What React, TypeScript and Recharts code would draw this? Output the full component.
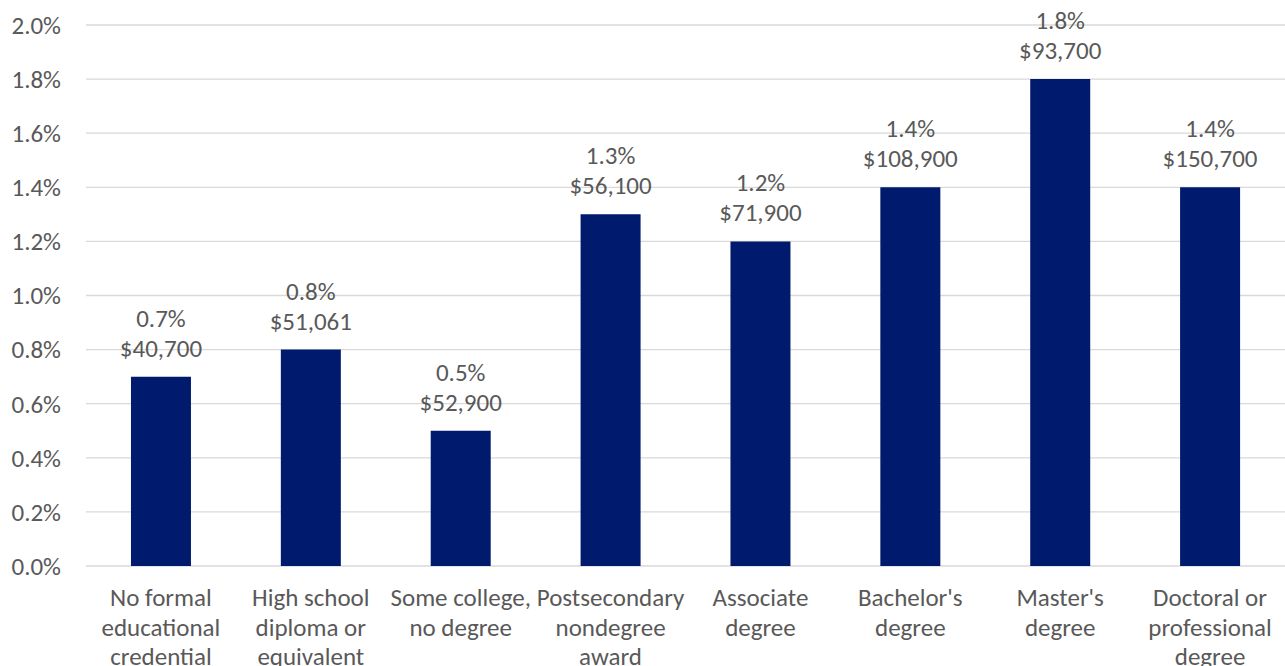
import { BarChart, Bar, XAxis, YAxis, CartesianGrid, LabelList } from 'recharts';

const categories = [
  'No formal educational credential',
  'High school diploma or equivalent',
  'Some college, no degree',
  'Postsecondary nondegree award',
  'Associate degree',
  "Bachelor's degree",
  "Master's degree",
  'Doctoral or professional degree',
];

// how each category name breaks into lines under the axis
const categoryLines = [
  ['No formal', 'educational', 'credential'],
  ['High school', 'diploma or', 'equivalent'],
  ['Some college,', 'no degree'],
  ['Postsecondary', 'nondegree', 'award'],
  ['Associate', 'degree'],
  ["Bachelor's", 'degree'],
  ["Master's", 'degree'],
  ['Doctoral or', 'professional', 'degree'],
];

const rates = [0.7, 0.8, 0.5, 1.3, 1.2, 1.4, 1.8, 1.4];
const salaries = [40700, 51061, 52900, 56100, 71900, 108900, 93700, 150700];
const yTicks = [0, 0.2, 0.4, 0.6, 0.8, 1.0, 1.2, 1.4, 1.6, 1.8, 2.0];

const data = categories.map((name, i) => ({ name, rate: rates[i], salary: salaries[i] }));

const FONT = 'Carlito, Lato, sans-serif';
const FS = 25;
const TEXT = '#595959';
const BAR = '#001A6E';

const CategoryTick = (props: any) => {
  const { x, y, payload } = props;
  const idx = categories.indexOf(payload.value);
  const lines = categoryLines[idx] || [payload.value];
  return (
    <text x={x} y={y} textAnchor="middle" fill={TEXT} fontFamily={FONT} fontSize={FS}>
      {lines.map((l, i) => (
        <tspan key={i} x={x} dy={i === 0 ? 40 : 29.5}>
          {l}
        </tspan>
      ))}
    </text>
  );
};

const BarLabel = (props: any) => {
  const { x, y, width, index } = props;
  const cx = x + width / 2;
  return (
    <text textAnchor="middle" fill={TEXT} fontFamily={FONT} fontSize={FS}>
      <tspan x={cx} y={y - 50}>{rates[index].toFixed(1) + '%'}</tspan>
      <tspan x={cx} y={y - 20}>{'$' + salaries[index].toLocaleString('en-US')}</tspan>
    </text>
  );
};

export default function App() {
  return (
    <div style={{ position: 'absolute', left: 0, top: 0, background: '#fff' }}>
      <BarChart
        width={1285}
        height={666}
        data={data}
        margin={{ top: 25, right: 0, left: 0, bottom: 0 }}
        barCategoryGap="30%"
      >
        <CartesianGrid vertical={false} stroke="#D9D9D9" strokeWidth={1.3} />
        <XAxis
          dataKey="name"
          axisLine={false}
          tickLine={false}
          tickSize={0}
          tickMargin={0}
          height={100}
          interval={0}
          tick={<CategoryTick />}
        />
        <YAxis
          domain={[0, 2]}
          ticks={yTicks}
          width={86}
          axisLine={false}
          tickLine={false}
          tickSize={0}
          tickMargin={25}
          tickFormatter={(v: number) => v.toFixed(1) + '%'}
          tick={{ fill: TEXT, fontFamily: FONT, fontSize: FS }}
        />
        <Bar dataKey="rate" fill={BAR} isAnimationActive={false}>
          <LabelList dataKey="rate" content={<BarLabel />} />
        </Bar>
      </BarChart>
    </div>
  );
}
